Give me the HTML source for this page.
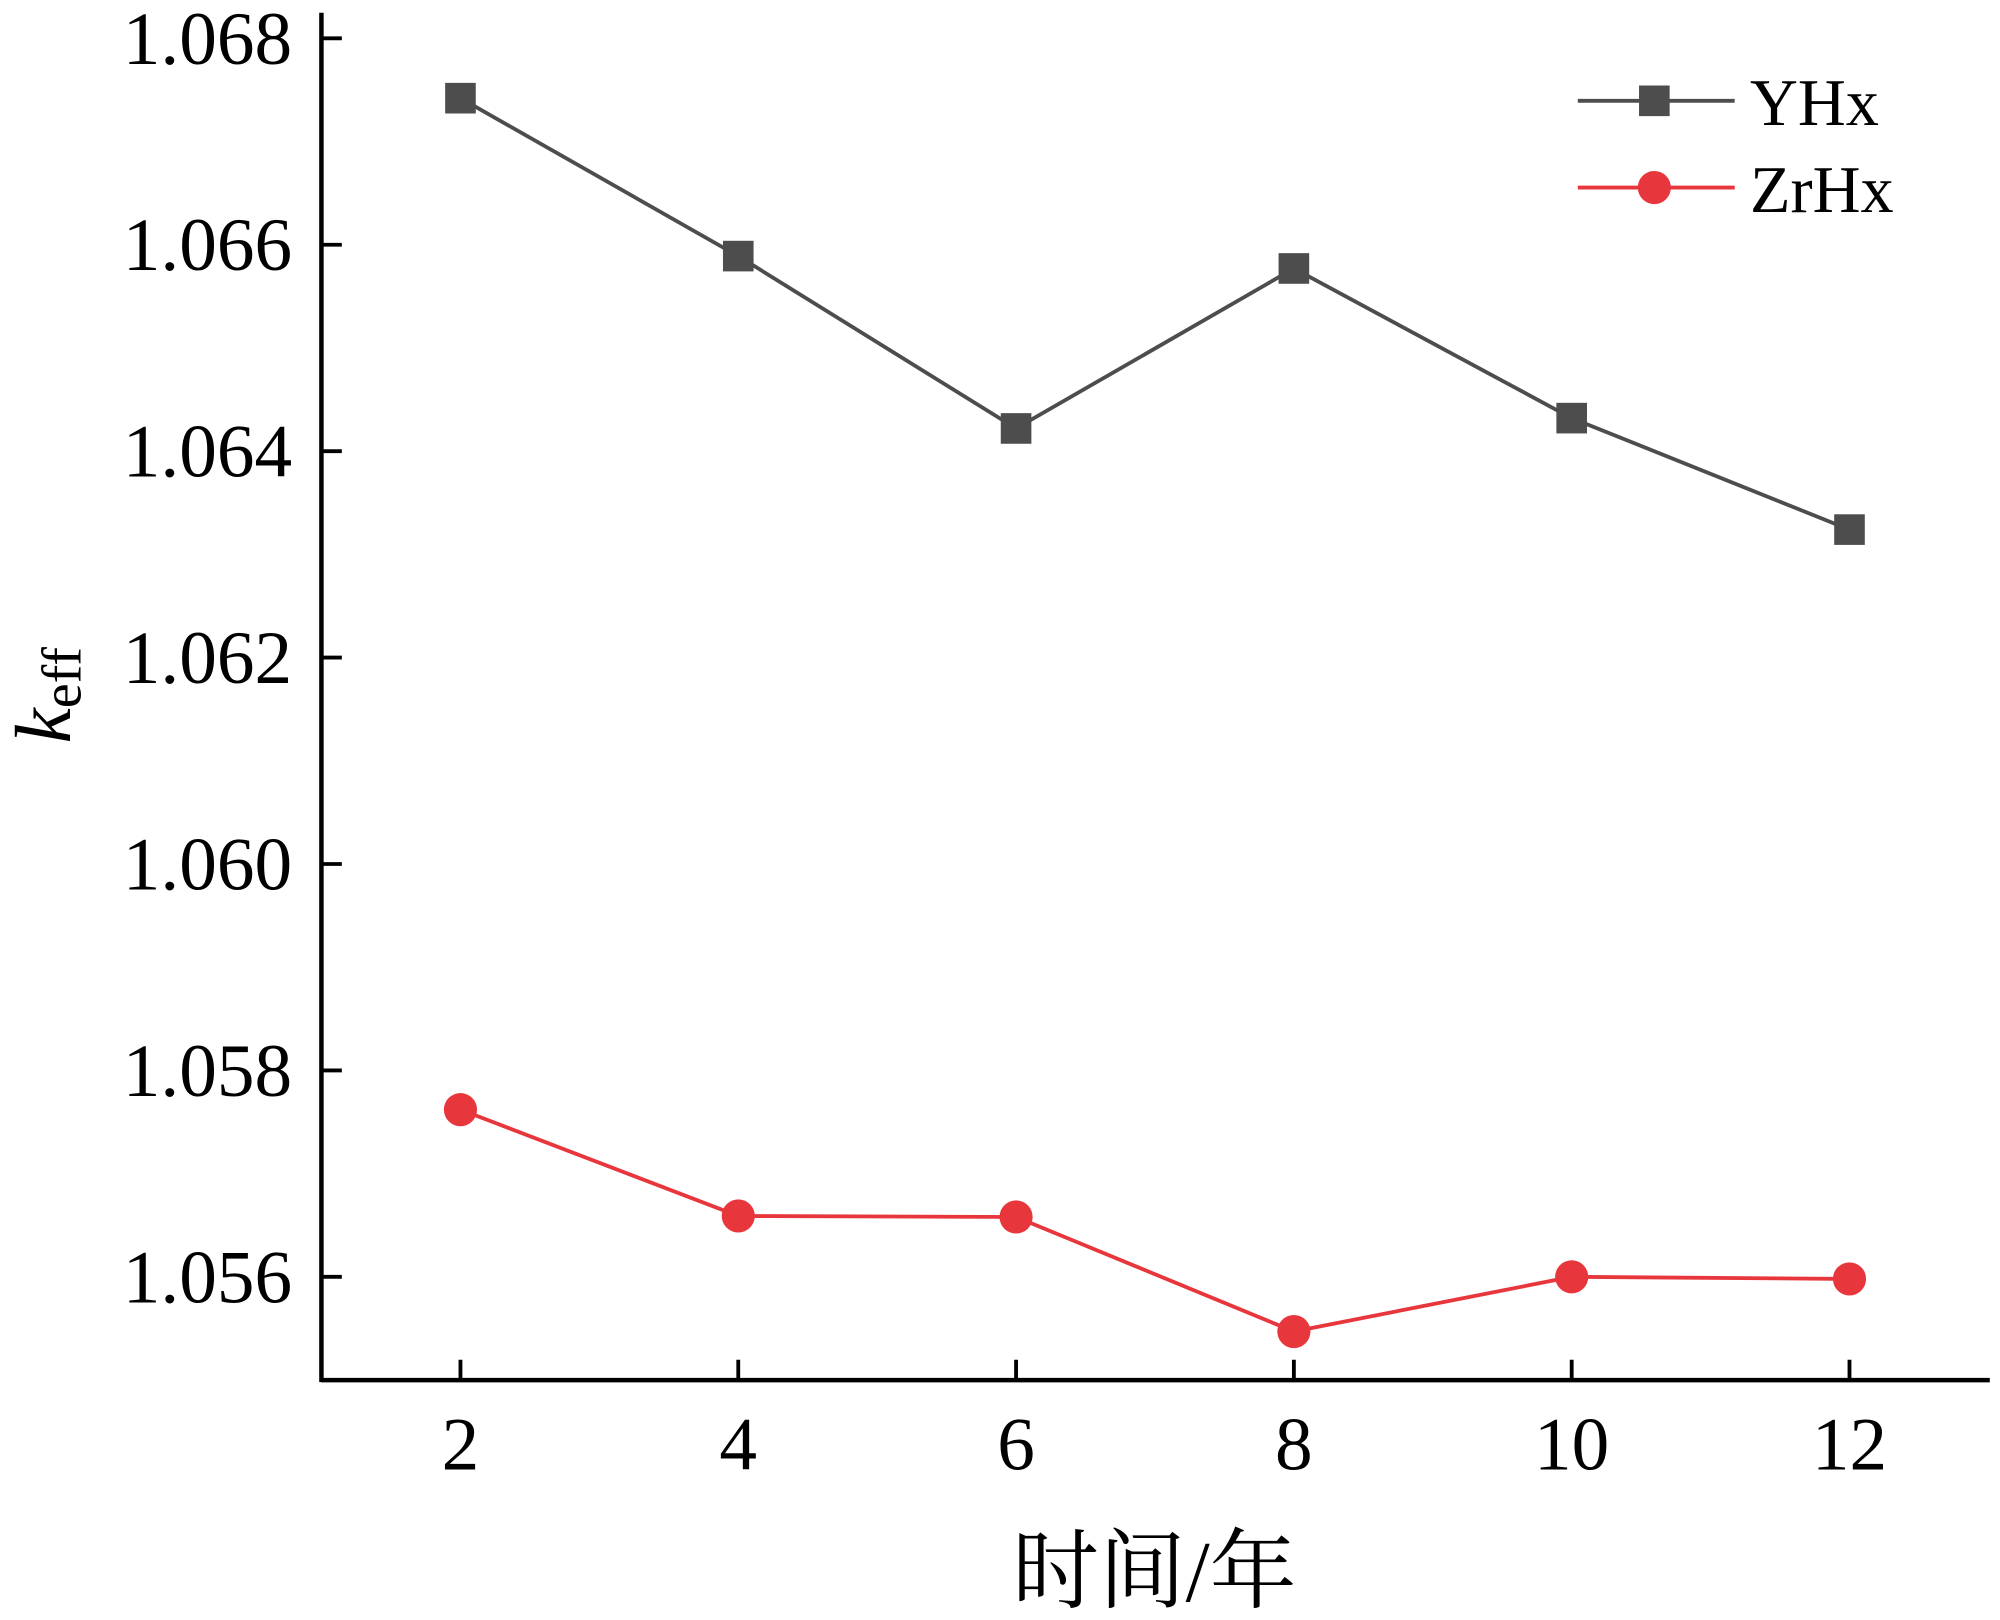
<!DOCTYPE html>
<html><head><meta charset="utf-8"><style>body{margin:0;background:#fff}svg{display:block}text{font-family:"Liberation Serif","Noto Serif CJK SC",serif}</style></head>
<body>
<svg id="chart" width="2000" height="1620" viewBox="0 0 1568 1270" xmlns="http://www.w3.org/2000/svg">
<g id="axes"></g>
<g id="series"></g>
<text x="905" y="1255" font-size="68" text-anchor="middle">时间/年</text>
<text transform="translate(55,545) rotate(-90)" font-size="62" text-anchor="middle"><tspan font-style="italic">k</tspan><tspan font-size="44" dy="8">eff</tspan></text>
<g>
<line x1="1237" y1="79" x2="1360" y2="79" stroke="#4d4d4d" stroke-width="3"/>
<rect x="1285" y="67" width="24" height="24" fill="#4d4d4d"/>
<text x="1372" y="98" font-size="52">YHx</text>
<line x1="1237" y1="147" x2="1360" y2="147" stroke="#e8373c" stroke-width="3"/>
<circle cx="1297" cy="147" r="13" fill="#e8373c"/>
<text x="1372" y="166" font-size="52">ZrHx</text>
</g>
</svg>
<script>
const xValues=[2,4,6,8,10,12];
const yhx=[1.06742,1.06589,1.06422,1.06577,1.06432,1.06324];
const zrhx=[1.05762,1.05659,1.05658,1.05547,1.0560,1.05598];
const yTicks=[1.056,1.058,1.060,1.062,1.064,1.066,1.068];
const yTickLabels=["1.056","1.058","1.060","1.062","1.064","1.066","1.068"];
const NS="http://www.w3.org/2000/svg";
const X=v=>361+(v-2)*(1450-361)/10;
const Y=v=>1001-(v-1.056)*(1001-30)/0.012;
function mk(t,a,p){const e=document.createElementNS(NS,t);for(const k in a)e.setAttribute(k,a[k]);p.appendChild(e);return e;}
const ax=document.getElementById('axes');
let l=mk('line',{x1:252,y1:1082,x2:1560,y2:1082,stroke:'#000','stroke-width':3.5},ax);


l=mk('line',{x1:252,y1:10,x2:252,y2:1083.5,stroke:'#000','stroke-width':3.5},ax);


xValues.forEach(v=>{
 const t=mk('line',{x1:X(v),y1:1082,x2:X(v),y2:1066,stroke:'#000','stroke-width':3},ax);
 
 
 const tx=mk('text',{x:X(v),y:1152,'font-size':59,'text-anchor':'middle'},ax);tx.textContent=v;
 
 
});
yTicks.forEach((v,i)=>{
 const t=mk('line',{x1:252,y1:Y(v),x2:268,y2:Y(v),stroke:'#000','stroke-width':3},ax);
 
 
 const tx=mk('text',{x:229,y:Y(v)+20,'font-size':59,'text-anchor':'end'},ax);tx.textContent=yTickLabels[i];
 
 
});
const sg=document.getElementById('series');
function draw(vals,color,sq,name){
 const p=mk('polyline',{points:vals.map((v,i)=>X(xValues[i])+','+Y(v)).join(' '),fill:'none',stroke:color,'stroke-width':3},sg);
 
 
 vals.forEach((v,i)=>{
  const m=sq?mk('rect',{x:X(xValues[i])-12,y:Y(v)-12,width:24,height:24,fill:color},sg):mk('circle',{cx:X(xValues[i]),cy:Y(v),r:13,fill:color},sg);
  
  
 });
}
draw(yhx,'#4d4d4d',true,'yhx');
draw(zrhx,'#e8373c',false,'zrhx');
</script>
</body></html>
